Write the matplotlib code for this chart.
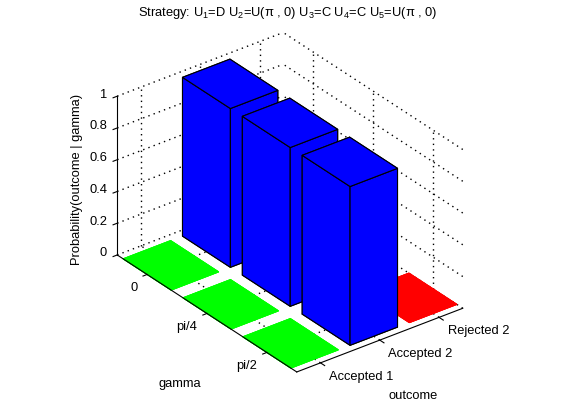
import numpy as np
import matplotlib
matplotlib.use('Agg')
import matplotlib.pyplot as plt
from mpl_toolkits.mplot3d import proj3d

plt.rcParams['font.family'] = ['Liberation Sans', 'DejaVu Sans']
plt.rcParams['mathtext.fontset'] = 'custom'
plt.rcParams['mathtext.rm'] = 'Liberation Sans'
plt.rcParams['mathtext.it'] = 'Liberation Sans:italic'
plt.rcParams['mathtext.bf'] = 'Liberation Sans:bold'

# ---------------- data ----------------
title = 'Strategy: U$_1$=D U$_2$=U(π , 0) U$_3$=C U$_4$=C U$_5$=U(π , 0)'
outcomes = ['Accepted 1', 'Accepted 2', 'Rejected 2']
gamma_labels = ['0', 'pi/4', 'pi/2']
p_accepted1 = [0.0, 0.0, 0.0]
p_accepted2 = [1.0, 1.0, 1.0]
p_rejected2 = [0.0, 0.0, 0.0]
series = [p_accepted1, p_accepted2, p_rejected2]
series_colors = ['#00ff00', '#0000ff', '#ff0000']
zticks = [0, 0.2, 0.4, 0.6, 0.8, 1.0]
zticklabels = ['0', '0.2', '0.4', '0.6', '0.8', '1']
xlabel = 'outcome'
ylabel = 'gamma'
zlabel = 'Probability(outcome | gamma)'

# ---------------- figure ----------------
W, H = 561, 420
fig = plt.figure(figsize=(W / 100, H / 100), dpi=100, facecolor='white')
S0 = 300.0
ax = fig.add_axes([(280 - S0 / 2) / W, (210 - S0 / 2) / H, S0 / W, S0 / H],
                  projection='3d', computed_zorder=False)
ax.set_proj_type('ortho')
ax.view_init(elev=30, azim=-127.5)
nx, ny = len(outcomes), len(gamma_labels)
bw = 0.8
xlim = (1 - bw / 2, nx + bw / 2)
ylim = (0.5, ny + 0.5)
zlim = (zticks[0], zticks[-1])
ax.set_xlim(*xlim)
ax.set_ylim(*ylim)
ax.set_zlim(*zlim)
ax.set_box_aspect((210, 296, 184))
ax.set_axis_off()

xpos = np.arange(1, nx + 1)
ypos = ny - np.arange(ny)  # gamma = 0 at the back


def px(x, y, z):
    xs, ys, _ = proj3d.proj_transform(np.atleast_1d(np.asarray(x, float)),
                                      np.atleast_1d(np.asarray(y, float)),
                                      np.atleast_1d(np.asarray(z, float)), ax.M)
    d = ax.transData.transform(np.column_stack([xs, ys]))
    return np.column_stack([d[:, 0], H - d[:, 1]])


# calibrate the box placement to the reference layout
corners = np.array([[xlim[0], ylim[1], zlim[0]], [xlim[1], ylim[0], zlim[0]],
                    [xlim[0], ylim[0], zlim[0]], [xlim[1], ylim[1], zlim[1]]])
target = np.array([[117, 253], [463.3, 310], [296.7, 371.7], [283, 33]])
for _ in range(3):
    fig.canvas.draw()
    pos = ax.get_position()
    S = pos.width * W
    c = np.array([(pos.x0 + pos.width / 2) * W, H - (pos.y0 + pos.height / 2) * H])
    p = px(corners[:, 0], corners[:, 1], corners[:, 2])
    q = (p - c) / S
    Sh = (target[1, 0] - target[0, 0]) / (q[1, 0] - q[0, 0])
    Sv = (target[2, 1] - target[3, 1]) / (q[2, 1] - q[3, 1])
    Sn = 0.5 * (Sh + Sv)
    cn = (target - Sn * q).mean(axis=0)
    ax.set_position([(cn[0] - Sn / 2) / W, (H - cn[1] - Sn / 2) / H, Sn / W, Sn / H])
fig.canvas.draw()

# ---------------- grid ----------------
gk = dict(color='k', lw=1.0, ls=(0, (1, 3)), zorder=1)
for z in zticks:
    ax.plot(xlim, [ylim[1]] * 2, [z] * 2, **gk)
    ax.plot([xlim[1]] * 2, ylim, [z] * 2, **gk)
for x in xpos:
    ax.plot([x, x], [ylim[1]] * 2, zlim, **gk)
    ax.plot([x, x], ylim, [zlim[0]] * 2, **gk)
for y in ypos:
    ax.plot([xlim[1]] * 2, [y, y], zlim, **gk)
    ax.plot(xlim, [y, y], [zlim[0]] * 2, **gk)

# ---------------- bars ----------------
bars = []
for j, vals in enumerate(series):
    for i, v in enumerate(vals):
        bars.append((xpos[j], ypos[i], v, series_colors[j]))
bars.sort(key=lambda b: (b[2] > 0, -(b[0] + b[1])))
for k, (x, y, v, col) in enumerate(bars):
    ec = 'k' if v > 0 else col
    ax.bar3d(x - bw / 2, y - bw / 2, 0, bw, bw, v, color=col, edgecolor=ec,
             linewidth=0.8, shade=False, zorder=2 + k)

# ---------------- axes lines ----------------
ak = dict(color='k', lw=0.8, zorder=50)
tl = 0.07
ax.plot([xlim[0]] * 2, [ylim[1]] * 2, zlim, **ak)
ax.plot([xlim[0]] * 2, ylim, [zlim[0]] * 2, **ak)
ax.plot(xlim, [ylim[0]] * 2, [zlim[0]] * 2, **ak)
for z in zticks:
    ax.plot([xlim[0], xlim[0] - tl], [ylim[1]] * 2, [z, z], **ak)
for y in ypos:
    ax.plot([xlim[0], xlim[0] - tl], [y, y], [zlim[0]] * 2, **ak)
for x in xpos:
    ax.plot([x, x], [ylim[0], ylim[0] - tl], [zlim[0]] * 2, **ak)

# ---------------- texts ----------------
fs = 9.3


def put(xp, yp, s, **kw):
    kw.setdefault('fontsize', fs)
    fig.text(xp / W, 1 - yp / H, s, **kw)


for z, lab in zip(zticks, zticklabels):
    p = px(xlim[0], ylim[1], z)[0]
    put(p[0] - 10, p[1] - 1.5, lab, ha='right', va='center')
for y, lab in zip(ypos, gamma_labels):
    p = px(xlim[0], y, zlim[0])[0]
    put(p[0] - 9.5, p[1] + 14, lab, ha='right', va='center')
for x, lab in zip(xpos, outcomes):
    p = px(x, ylim[0], zlim[0])[0]
    put(p[0] + 8.5, p[1] + 14, lab, ha='left', va='center')
p = px(xpos.mean(), ylim[0], zlim[0])[0]
put(p[0] + 33, p[1] + 56, xlabel, ha='center', va='center')
p = px(xlim[0], ypos.mean(), zlim[0])[0]
put(p[0] - 27, p[1] + 70.5, ylabel, ha='center', va='center')
p = px(xlim[0], ylim[1], 0.5)[0]
put(p[0] - 40, p[1] + 3.5, zlabel, ha='center', va='center', rotation=90)
put(288, 13, title, ha='center', va='center')

fig.savefig('out.png', dpi=100, facecolor='white')
